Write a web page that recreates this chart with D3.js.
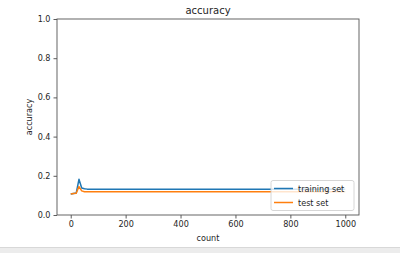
<!DOCTYPE html>
<html><head><meta charset="utf-8">
<script src="https://cdn.jsdelivr.net/npm/d3@7"></script>
<style>body{margin:0;background:#fff;}svg{display:block;font-family:"DejaVu Sans",sans-serif;}</style>
</head><body>
<svg id="c" width="400" height="253"></svg>
<script>
const counts = [0, 10, 20, 30, 40, 50, 60, 1000];
const trainAcc = [0.107, 0.110, 0.112, 0.182, 0.138, 0.134, 0.132, 0.132];
const testAcc  = [0.107, 0.110, 0.111, 0.145, 0.123, 0.119, 0.118, 0.118];
const seriesNames = ["training set", "test set"];
const xTicks = [0, 200, 400, 600, 800, 1000];
const yTicks = [0.0, 0.2, 0.4, 0.6, 0.8, 1.0];

const svg = d3.select("#c");
const L = 57, R = 359, T = 19, B = 215;
const x = d3.scaleLinear().domain([-50, 1050]).range([L, R]);
const y = d3.scaleLinear().domain([0, 1]).range([B, T]);
const colors = ["#1f77b4", "#ff7f0e"];

// bottom gray band
svg.append("rect").attr("x",0).attr("y",248).attr("width",400).attr("height",5).attr("fill","#ececec");
svg.append("line").attr("x1",0).attr("x2",400).attr("y1",247.5).attr("y2",247.5).attr("stroke","#d8d8d8");

const line = d3.line().x((d,i)=>x(counts[i])).y(d=>y(d));
[trainAcc, testAcc].forEach((s,k)=>{
  svg.append("path").datum(s).attr("d",line).attr("fill","none")
    .attr("stroke",colors[k]).attr("stroke-width",1.5).attr("stroke-linejoin","round");
});

const xa = svg.append("g").attr("transform",`translate(0,${B})`)
  .call(d3.axisBottom(x).tickValues(xTicks).tickSize(3.5).tickPadding(3).tickFormat(d3.format("d")));
const ya = svg.append("g").attr("transform",`translate(${L},0)`)
  .call(d3.axisLeft(y).tickValues(yTicks).tickSize(3.5).tickPadding(3).tickFormat(d3.format(".1f")));
[xa,ya].forEach(a=>{
  a.select(".domain").remove();
  a.selectAll("text").attr("font-size","8.1px").attr("fill","#262626").attr("font-family","DejaVu Sans");
  a.selectAll("line").attr("stroke","#333").attr("stroke-width",0.8);
});
svg.append("rect").attr("x",L).attr("y",T).attr("width",R-L).attr("height",B-T)
  .attr("fill","none").attr("stroke","#555").attr("stroke-width",0.9);

svg.append("text").attr("x",(L+R)/2).attr("y",14).attr("text-anchor","middle")
  .attr("font-size","10px").attr("fill","#262626").text("accuracy");
svg.append("text").attr("x",(L+R)/2).attr("y",241).attr("text-anchor","middle")
  .attr("font-size","8.1px").attr("fill","#262626").text("count");
svg.append("text").attr("transform",`translate(32,${(T+B)/2}) rotate(-90)`).attr("text-anchor","middle")
  .attr("font-size","8.1px").attr("fill","#262626").text("accuracy");

// legend
const lg = svg.append("g");
lg.append("rect").attr("x",271).attr("y",180.5).attr("width",83).attr("height",30).attr("rx",2)
  .attr("fill","#fff").attr("fill-opacity",0.8).attr("stroke","#ccc").attr("stroke-width",0.8);
seriesNames.forEach((n,k)=>{
  const yy = 188.5 + k*14;
  lg.append("line").attr("x1",274).attr("x2",293).attr("y1",yy).attr("y2",yy)
    .attr("stroke",colors[k]).attr("stroke-width",1.5);
  lg.append("text").attr("x",298).attr("y",yy+3).attr("font-size","8.1px").attr("fill","#262626").text(n);
});
</script>
</body></html>
